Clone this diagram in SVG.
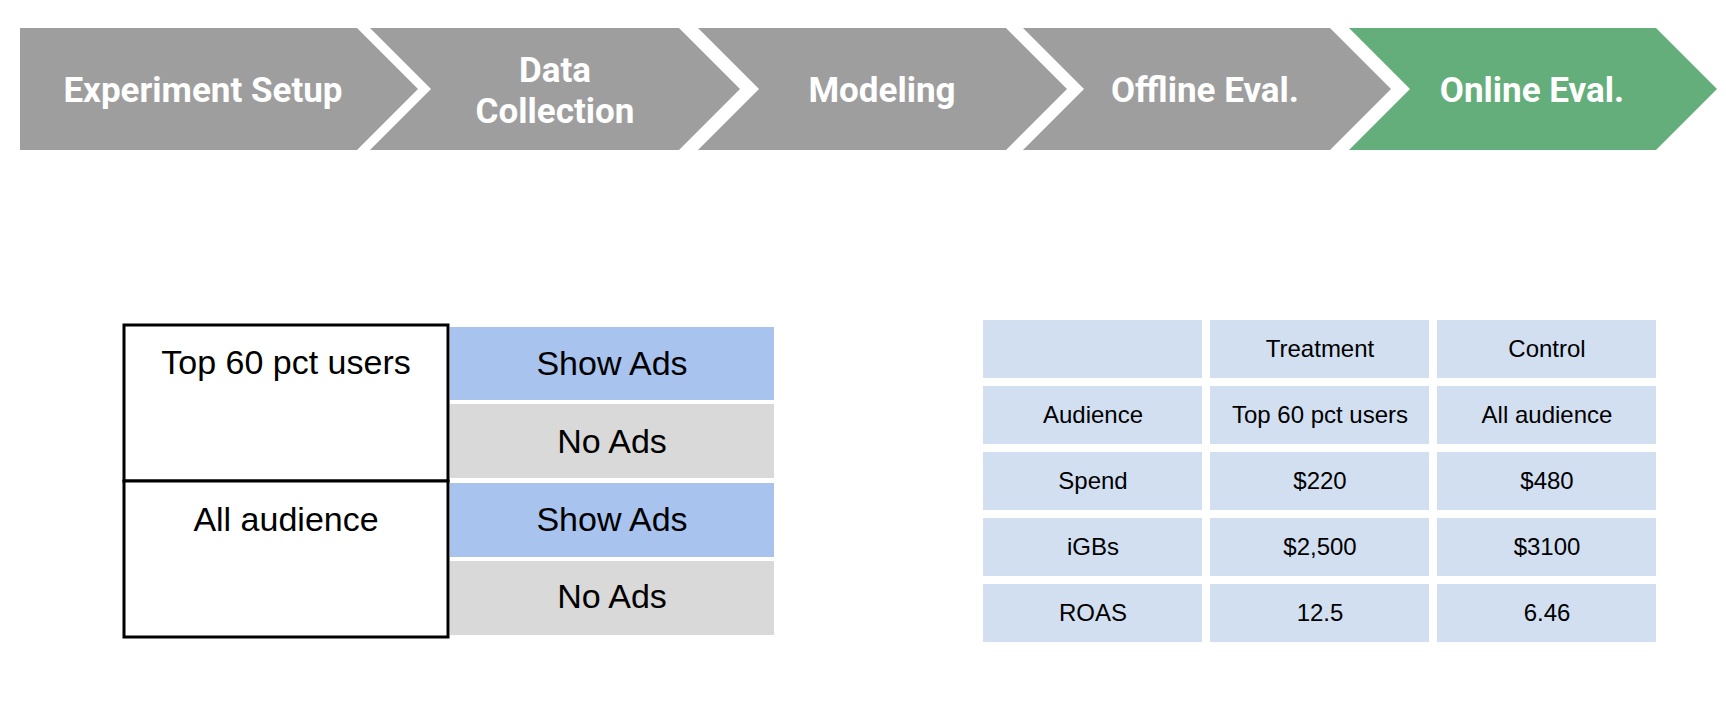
<svg xmlns="http://www.w3.org/2000/svg" width="1726" height="710" viewBox="0 0 1726 710">
<style>
.chev{fill:#9e9e9e}
.chev.on{fill:#64ae7b}
.ct{font-family:Roboto,"Liberation Sans",sans-serif;font-weight:700;font-size:35px;fill:#ffffff;text-anchor:middle}
.t{font-family:"Liberation Sans",Arial,sans-serif;fill:#000;text-anchor:middle}
.big{font-size:34px}
.sm{font-size:24px}
.grp{fill:#ffffff;stroke:#000;stroke-width:3}
.blue{fill:#a8c3ee}
.gray{fill:#d9d9d9}
.cell{fill:#d2dff0}
</style>
<rect width="1726" height="710" fill="#ffffff"/>
<g id="steps">
  <g id="step-experiment-setup">
    <polygon class="chev" points="20,28 357,28 418,89 357,150 20,150"/>
    <text class="ct" x="203" y="102">Experiment Setup</text>
  </g>
  <g id="step-data-collection">
    <polygon class="chev" points="370,28 679,28 740,89 679,150 370,150 431,89"/>
    <text class="ct" x="555" y="82">Data</text>
    <text class="ct" x="555" y="123">Collection</text>
  </g>
  <g id="step-modeling">
    <polygon class="chev" points="698,28 1006,28 1067,89 1006,150 698,150 759,89"/>
    <text class="ct" x="882" y="102">Modeling</text>
  </g>
  <g id="step-offline-eval">
    <polygon class="chev" points="1023,28 1330,28 1391,89 1330,150 1023,150 1084,89"/>
    <text class="ct" x="1205" y="102">Offline Eval.</text>
  </g>
  <g id="step-online-eval">
    <polygon class="chev on" points="1349,28 1656,28 1717,89 1656,150 1349,150 1410,89"/>
    <text class="ct" x="1532" y="102">Online Eval.</text>
  </g>
</g>
<g id="connectors"></g>
<g id="design-table">
  <g id="grp-top60">
    <rect class="grp" x="124" y="325" width="324" height="156"/>
    <text class="t big" x="286" y="374">Top 60 pct users</text>
  </g>
  <g id="grp-all">
    <rect class="grp" x="124" y="481" width="324" height="156"/>
    <text class="t big" x="286" y="531">All audience</text>
  </g>
  <g id="top60-show">
    <rect class="blue" x="450" y="327" width="324" height="73"/>
    <text class="t big" x="612" y="375">Show Ads</text>
  </g>
  <g id="top60-no">
    <rect class="gray" x="450" y="404" width="324" height="74"/>
    <text class="t big" x="612" y="453">No Ads</text>
  </g>
  <g id="all-show">
    <rect class="blue" x="450" y="483" width="324" height="74"/>
    <text class="t big" x="612" y="531">Show Ads</text>
  </g>
  <g id="all-no">
    <rect class="gray" x="450" y="561" width="324" height="74"/>
    <text class="t big" x="612" y="608">No Ads</text>
  </g>
</g>
<g id="results-table">
  <g id="r0c0"><rect class="cell" x="983" y="320" width="219" height="58"/></g>
  <g id="r0c1"><rect class="cell" x="1210" y="320" width="219" height="58"/><text class="t sm" x="1320" y="357">Treatment</text></g>
  <g id="r0c2"><rect class="cell" x="1437" y="320" width="219" height="58"/><text class="t sm" x="1547" y="357">Control</text></g>
  <g id="r1c0"><rect class="cell" x="983" y="386" width="219" height="58"/><text class="t sm" x="1093" y="423">Audience</text></g>
  <g id="r1c1"><rect class="cell" x="1210" y="386" width="219" height="58"/><text class="t sm" x="1320" y="423">Top 60 pct users</text></g>
  <g id="r1c2"><rect class="cell" x="1437" y="386" width="219" height="58"/><text class="t sm" x="1547" y="423">All audience</text></g>
  <g id="r2c0"><rect class="cell" x="983" y="452" width="219" height="58"/><text class="t sm" x="1093" y="489">Spend</text></g>
  <g id="r2c1"><rect class="cell" x="1210" y="452" width="219" height="58"/><text class="t sm" x="1320" y="489">$220</text></g>
  <g id="r2c2"><rect class="cell" x="1437" y="452" width="219" height="58"/><text class="t sm" x="1547" y="489">$480</text></g>
  <g id="r3c0"><rect class="cell" x="983" y="518" width="219" height="58"/><text class="t sm" x="1093" y="555">iGBs</text></g>
  <g id="r3c1"><rect class="cell" x="1210" y="518" width="219" height="58"/><text class="t sm" x="1320" y="555">$2,500</text></g>
  <g id="r3c2"><rect class="cell" x="1437" y="518" width="219" height="58"/><text class="t sm" x="1547" y="555">$3100</text></g>
  <g id="r4c0"><rect class="cell" x="983" y="584" width="219" height="58"/><text class="t sm" x="1093" y="621">ROAS</text></g>
  <g id="r4c1"><rect class="cell" x="1210" y="584" width="219" height="58"/><text class="t sm" x="1320" y="621">12.5</text></g>
  <g id="r4c2"><rect class="cell" x="1437" y="584" width="219" height="58"/><text class="t sm" x="1547" y="621">6.46</text></g>
</g>
</svg>
